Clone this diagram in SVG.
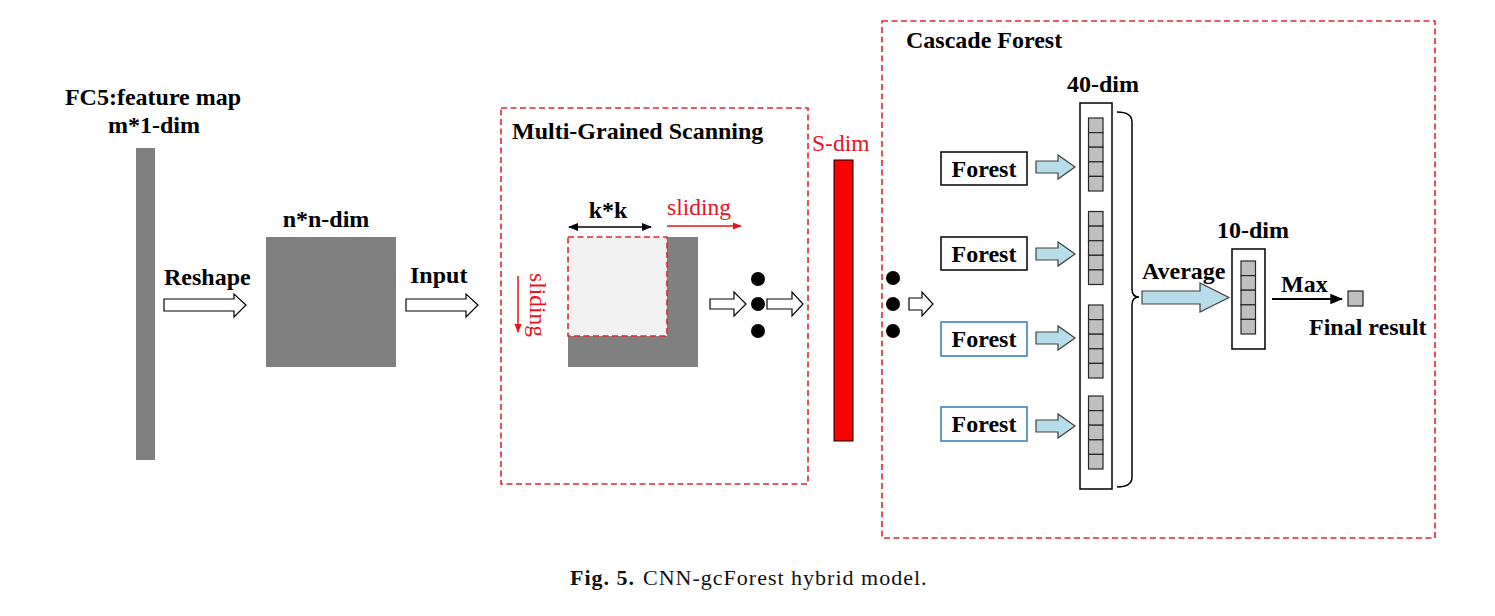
<svg xmlns="http://www.w3.org/2000/svg" width="1495" height="616" viewBox="0 0 1495 616">
<style>
.lbl{font-family:"Liberation Serif","Times New Roman",serif;font-weight:bold;font-size:24px;fill:#000}
.red{font-family:"Liberation Serif","Times New Roman",serif;font-size:23.5px;fill:#e8141c}
.cap{font-family:"Liberation Serif","Times New Roman",serif;font-size:22px;fill:#111;letter-spacing:1px}
.dash{fill:none;stroke:#e0262e;stroke-width:1.6;stroke-dasharray:6,3.5}
.hollow{fill:#fff;stroke:#000;stroke-width:1.2}
.blue{fill:#b7dde8;stroke:#404040;stroke-width:1.2}
.cell{fill:#bfbfbf;stroke:#262626;stroke-width:1.2}
.gray{fill:#808080}
.dot{fill:#000}
</style>
<defs>
<marker id="ah" viewBox="0 0 10 10" refX="9" refY="5" markerWidth="10" markerHeight="10" markerUnits="userSpaceOnUse" orient="auto-start-reverse">
<path d="M0,1 L10,5 L0,9 Z" fill="#000"/>
</marker>
<marker id="ahr" viewBox="0 0 10 10" refX="9" refY="5" markerWidth="9" markerHeight="9" markerUnits="userSpaceOnUse" orient="auto">
<path d="M0,1 L10,5 L0,9 Z" fill="#e8141c"/>
</marker>
<marker id="ahm" viewBox="0 0 10 10" refX="9" refY="5" markerWidth="13" markerHeight="13" markerUnits="userSpaceOnUse" orient="auto">
<path d="M0,1 L10,5 L0,9 Z" fill="#000"/>
</marker>
<g id="cells5">
<rect class="cell" x="0" y="0" width="14.5" height="14.6"/>
<rect class="cell" x="0" y="14.6" width="14.5" height="14.6"/>
<rect class="cell" x="0" y="29.2" width="14.5" height="14.6"/>
<rect class="cell" x="0" y="43.8" width="14.5" height="14.6"/>
<rect class="cell" x="0" y="58.4" width="14.5" height="14.6"/>
</g>
</defs>
<rect width="1495" height="616" fill="#fff"/>

<g id="fc5">
<text class="lbl" x="153" y="105" text-anchor="middle">FC5:feature map</text>
<text class="lbl" x="154" y="133" text-anchor="middle">m*1-dim</text>
<rect class="gray" x="136" y="148" width="19" height="312"/>
</g>

<g id="nn">
<text class="lbl" x="326" y="227" text-anchor="middle">n*n-dim</text>
<rect class="gray" x="266" y="237" width="130" height="130"/>
</g>

<g id="mgs">
<rect class="dash" x="501" y="108" width="307" height="376"/>
<text class="lbl" x="512" y="139">Multi-Grained Scanning</text>
<rect class="gray" x="568" y="237" width="130" height="130"/>
<rect x="568" y="237" width="99" height="99" fill="#f2f2f2"/>
<rect class="dash" x="568" y="237" width="99" height="99"/>
<text class="lbl" x="608" y="218" text-anchor="middle">k*k</text>
<text class="red" x="667" y="215">sliding</text>
<text class="red" transform="translate(530,273) rotate(90)">sliding</text>
<circle class="dot" cx="758" cy="279" r="7"/>
<circle class="dot" cx="758" cy="304" r="7"/>
<circle class="dot" cx="758" cy="331" r="7"/>
</g>

<g id="sdim">
<text class="red" x="812" y="151">S-dim</text>
<rect x="834" y="160" width="19" height="281" fill="#ff0000" stroke="#000" stroke-width="1"/>
</g>

<g id="cascade">
<rect class="dash" x="882" y="21" width="553" height="517"/>
<text class="lbl" x="906" y="48">Cascade Forest</text>
<circle class="dot" cx="893" cy="278" r="7"/>
<circle class="dot" cx="893" cy="304" r="7"/>
<circle class="dot" cx="893" cy="331" r="7"/>
</g>

<g id="forest1"><rect x="941" y="152" width="86" height="33" fill="#fff" stroke="#000" stroke-width="1.5"/><text class="lbl" x="984" y="176.5" text-anchor="middle">Forest</text></g>
<g id="forest2"><rect x="941" y="237" width="86" height="33" fill="#fff" stroke="#000" stroke-width="1.5"/><text class="lbl" x="984" y="261.5" text-anchor="middle">Forest</text></g>
<g id="forest3"><rect x="941" y="322" width="86" height="34" fill="#fff" stroke="#2e7bbf" stroke-width="1.5"/><text class="lbl" x="984" y="346.5" text-anchor="middle">Forest</text></g>
<g id="forest4"><rect x="941" y="407" width="86" height="34" fill="#fff" stroke="#2e7bbf" stroke-width="1.5"/><text class="lbl" x="984" y="431.5" text-anchor="middle">Forest</text></g>

<g id="dim40">
<text class="lbl" x="1103" y="92" text-anchor="middle">40-dim</text>
<rect x="1080" y="103" width="32" height="386" fill="#fff" stroke="#000" stroke-width="1.5"/>
<use href="#cells5" x="1088.5" y="118"/>
<use href="#cells5" x="1088.5" y="211.5"/>
<use href="#cells5" x="1088.5" y="305"/>
<use href="#cells5" x="1088.5" y="396"/>
</g>

<g id="dim10">
<text class="lbl" x="1253" y="238" text-anchor="middle">10-dim</text>
<rect x="1232" y="249" width="33" height="100" fill="#fff" stroke="#000" stroke-width="1.5"/>
<use href="#cells5" x="1241" y="261"/>
</g>

<g id="final">
<rect class="cell" x="1348" y="291" width="15" height="15"/>
<text class="lbl" x="1309" y="335">Final result</text>
</g>

<g id="connectors">
<path class="hollow" d="M164,299 H234 V294 L246,305 L234,317 V311 H164 Z"/>
<text class="lbl" x="164" y="285">Reshape</text>
<path class="hollow" d="M406,299 H466 V294 L478,305 L466,317 V311 H406 Z"/>
<text class="lbl" x="410" y="283">Input</text>
<line x1="569" y1="227" x2="651" y2="227" stroke="#000" stroke-width="1.5" marker-start="url(#ah)" marker-end="url(#ah)"/>
<line x1="667" y1="226" x2="741" y2="226" stroke="#e8141c" stroke-width="1.5" marker-end="url(#ahr)"/>
<line x1="518" y1="276" x2="518" y2="332" stroke="#e8141c" stroke-width="1.5" marker-end="url(#ahr)"/>
<path class="hollow" d="M710,299 H734 V292 L746,304 L734,316 V309 H710 Z"/>
<path class="hollow" d="M767,299 H792 V292 L803,304 L792,316 V309 H767 Z"/>
<path class="hollow" d="M909,298 H922 V292 L933,304 L922,316 V310 H909 Z"/>
<path class="blue" d="M1036,161 H1058 V155 L1075,167 L1058,179 V173 H1036 Z"/>
<path class="blue" d="M1036,248 H1058 V242 L1075,254 L1058,266 V260 H1036 Z"/>
<path class="blue" d="M1036,332 H1058 V326 L1075,338 L1058,350 V344 H1036 Z"/>
<path class="blue" d="M1036,420 H1058 V414 L1075,426 L1058,438 V432 H1036 Z"/>
<path d="M1117,112 Q1132,112 1132,122 V289 Q1132,297 1139,297 Q1132,297 1132,305 V477 Q1132,487 1117,487" fill="none" stroke="#000" stroke-width="1.5"/>
<path class="blue" d="M1142,291 H1200 V283 L1229,297.5 L1200,312 V304 H1142 Z"/>
<text class="lbl" x="1142" y="279">Average</text>
<line x1="1272" y1="299" x2="1342" y2="299" stroke="#000" stroke-width="2" marker-end="url(#ahm)"/>
<text class="lbl" x="1281" y="292">Max</text>
</g>

<g id="caption">
<text class="cap" x="570" y="585"><tspan font-weight="bold">Fig. 5.</tspan><tspan dx="8">CNN-gcForest hybrid model.</tspan></text>
</g>
</svg>
